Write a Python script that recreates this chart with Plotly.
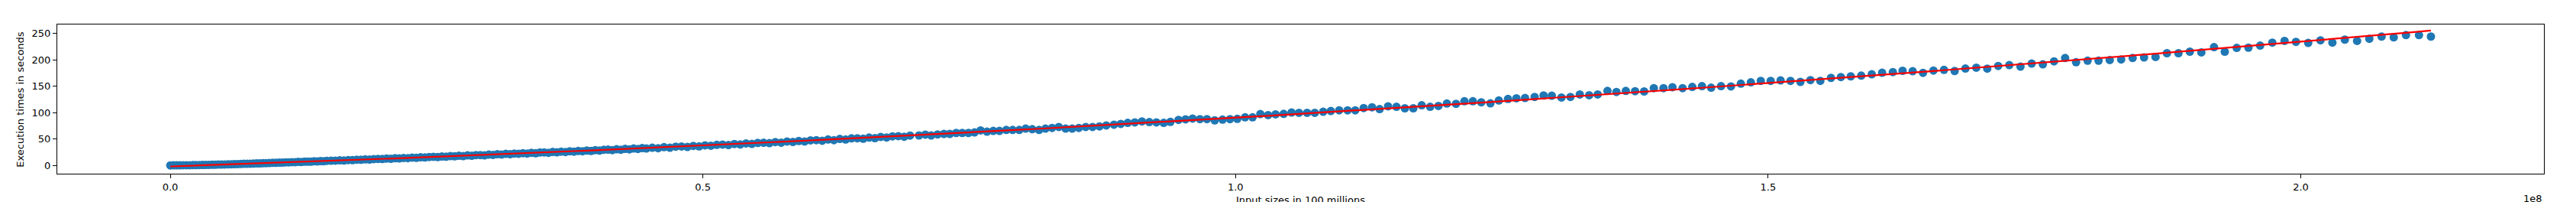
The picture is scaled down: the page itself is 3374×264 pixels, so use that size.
import numpy as np
import plotly.graph_objects as go

# Input sizes in units of 1e8
input_size_1e8 = [
    # dense start
    0.000, 0.003, 0.006, 0.009, 0.012, 0.015, 0.018, 0.021, 0.024, 0.027,
    0.030, 0.033, 0.036, 0.039, 0.042, 0.045, 0.048, 0.051, 0.054, 0.057,
    0.060, 0.063, 0.066, 0.069, 0.072, 0.075, 0.078, 0.081, 0.084, 0.087,
    0.090, 0.093, 0.096, 0.099, 0.102, 0.105, 0.108, 0.111, 0.114, 0.117,
    0.120, 0.123, 0.126, 0.129, 0.132, 0.135, 0.138, 0.141, 0.144, 0.147,
    0.151, 0.155, 0.159, 0.163, 0.167, 0.171, 0.175, 0.179, 0.183, 0.187,
    0.191, 0.195, 0.199, 0.203, 0.207, 0.211, 0.215, 0.219, 0.223, 0.227,
    0.231, 0.235, 0.239, 0.243, 0.247, 0.251, 0.255, 0.259, 0.263, 0.267,
    0.271, 0.275, 0.279, 0.283, 0.287, 0.291, 0.295, 0.299, 0.303, 0.307,
    0.311, 0.315, 0.319, 0.323, 0.327, 0.331, 0.335, 0.339, 0.343, 0.347,
    0.351, 0.355, 0.359, 0.363, 0.367, 0.371, 0.375, 0.379, 0.383, 0.387,
    0.391, 0.395, 0.399, 0.403, 0.407, 0.411, 0.415, 0.419, 0.423, 0.427,
    0.431, 0.435, 0.439, 0.443, 0.447,
    0.4525, 0.4580, 0.4635, 0.4690, 0.4745, 0.4800, 0.4855, 0.4910, 0.4965, 0.5020,
    0.5075, 0.5130, 0.5185, 0.5240, 0.5295, 0.5350, 0.5405, 0.5460, 0.5515, 0.5570,
    0.5625, 0.5680, 0.5735, 0.5790, 0.5845, 0.5900, 0.5955, 0.6010, 0.6065, 0.6120,
    0.6175, 0.6230, 0.6285, 0.6340, 0.6395, 0.6450, 0.6505, 0.6560, 0.6615, 0.6670,
    0.6725, 0.6780, 0.6835, 0.6890, 0.6945,
    # sparser part
    0.7029, 0.7088, 0.7143, 0.7203, 0.7263, 0.7318, 0.7378, 0.7435, 0.7493, 0.7550,
    0.7607, 0.7667, 0.7726, 0.7784, 0.7848, 0.7908, 0.7970, 0.8030, 0.8092, 0.8156,
    0.8216, 0.8278, 0.8341, 0.8405, 0.8467, 0.8529, 0.8594, 0.8658, 0.8723, 0.8787,
    0.8859, 0.8923, 0.8988, 0.9055, 0.9122,
    0.9191, 0.9257, 0.9326, 0.9389, 0.9465, 0.9531, 0.9597, 0.9666, 0.9732, 0.9805,
    0.9878, 0.9948, 1.0017, 1.0090, 1.0160, 1.0233, 1.0306, 1.0376, 1.0452, 1.0526,
    1.0596, 1.0672, 1.0744, 1.0823, 1.0895, 1.0973, 1.1052, 1.1124, 1.1203, 1.1282,
    1.1353, 1.1432, 1.1511, 1.1590, 1.1669, 1.1748, 1.1827, 1.1905, 1.1984, 1.2070,
    1.2149, 1.2228, 1.2307, 1.2393, 1.2472, 1.2558, 1.2637, 1.2718,
    1.2808, 1.2892, 1.2969, 1.3060, 1.3144, 1.3232, 1.3320, 1.3400, 1.3492, 1.3576,
    1.3664, 1.3751, 1.3836, 1.3927, 1.4018, 1.4102,
    1.4197, 1.4288, 1.4379, 1.4465, 1.4558, 1.4651, 1.4744, 1.4838, 1.4931, 1.5024,
    1.5117, 1.5210, 1.5303, 1.5397, 1.5490, 1.5590, 1.5683, 1.5776, 1.5874, 1.5973,
    1.6070, 1.6171, 1.6262,
    1.6357, 1.6454, 1.6552, 1.6651, 1.6751, 1.6852, 1.6954, 1.7057, 1.7160, 1.7264,
    1.7369, 1.7474, 1.7579, 1.7684,
    1.7788, 1.7891, 1.7999, 1.8102, 1.8207, 1.8314, 1.8422, 1.8529, 1.8637, 1.8744,
    1.8852, 1.8959, 1.9067,
    1.9186, 1.9287, 1.9399, 1.9509, 1.9619, 1.9733, 1.9848, 1.9955, 2.0070, 2.0185,
    2.0297, 2.0414, 2.0529, 2.0644, 2.0759, 2.0873, 2.0988, 2.1110, 2.1222,
]

# Execution times in seconds
execution_seconds = [
    0.0, 0.1, 0.2, 0.2, 0.3, 0.4, 0.4, 0.5, 0.6, 0.7,
    0.8, 0.9, 1.0, 1.2, 1.3, 1.5, 1.6, 1.8, 2.0, 2.2,
    2.4, 2.5, 2.7, 3.0, 3.1, 3.3, 3.5, 3.7, 3.8, 4.2,
    4.3, 4.5, 4.9, 4.9, 5.3, 5.2, 5.7, 5.8, 6.2, 6.1,
    6.6, 6.5, 7.0, 7.1, 7.0, 7.8, 7.6, 8.2, 7.9, 8.6,
    8.8, 9.0, 9.5, 9.3, 10.1, 10.0, 10.8, 10.6, 11.4, 11.0,
    11.9, 12.3, 12.0, 12.9, 12.5, 13.6, 13.2, 14.1, 13.7, 14.8,
    14.3, 15.4, 15.0, 15.9, 16.3, 15.7, 16.9, 16.4, 17.6, 17.1,
    18.2, 17.6, 18.9, 18.3, 19.5, 19.6, 19.0, 20.4, 19.9, 21.1,
    20.6, 21.8, 21.2, 22.4, 22.0, 23.1, 22.4, 23.8, 23.0, 24.4,
    24.6, 23.9, 25.4, 24.8, 26.1, 25.3, 26.8, 26.0, 27.4, 26.8,
    28.1, 27.3, 28.9, 28.0, 29.6, 29.8, 28.9, 30.6, 29.7, 31.3,
    30.4, 32.0, 31.1, 32.7, 32.0,
    33.4, 32.6, 34.5, 33.5, 35.4, 35.8, 35.0, 36.9, 36.0, 38.0,
    37.2, 38.9, 39.4, 38.5, 40.5, 39.6, 41.6, 40.7, 42.6, 42.9,
    42.1, 44.2, 43.1, 45.3, 44.3, 46.2, 45.2, 47.4, 47.8, 46.7,
    49.0, 47.8, 50.1, 49.0, 51.2, 51.4, 50.4, 52.7, 51.6, 53.9,
    52.8, 55.0, 55.3, 54.2, 56.4,
    56.7, 58.2, 56.7, 58.6, 59.6, 59.6, 61.4, 61.4, 61.4, 62.4,
    66.2, 63.9, 65.3, 65.3, 67.1, 67.1, 67.1, 69.6, 68.6, 67.1,
    69.6, 71.0, 72.8, 69.6, 69.6, 71.0, 72.8, 72.8, 73.8, 75.7,
    77.1, 78.5, 80.5, 81.4, 83.3,
    81.9, 81.4, 80.5, 82.4, 86.2, 87.2, 88.6, 87.6, 87.6, 85.3,
    86.7, 87.6, 88.1, 91.0, 91.0, 97.2, 95.2, 96.7, 97.6, 100.0,
    99.5, 99.5, 99.5, 101.5, 102.9, 104.3, 104.3, 104.3, 108.6, 110.0,
    106.6, 111.9, 110.9, 108.1, 108.1, 113.8, 110.9, 112.5, 117.1, 116.6,
    121.4, 121.4, 119.5, 117.5, 122.8, 125.7, 127.1, 127.5,
    129.6, 132.4, 131.9, 128.5, 129.6, 134.3, 132.8, 134.3, 141.0, 139.0,
    141.0, 140.5, 140.0, 146.2, 146.2, 148.1,
    146.2, 148.6, 150.0, 147.2, 150.0, 149.5, 154.7, 157.2, 160.0, 160.0,
    160.9, 160.0, 158.1, 161.4, 160.0, 165.7, 167.2, 168.6, 170.0, 172.4,
    175.3, 176.7, 179.1,
    178.2, 175.2, 179.6, 180.8, 178.7, 183.4, 185.0, 183.1, 188.3, 189.8,
    186.9, 192.7, 191.3, 197.0,
    203.3, 195.3, 198.1, 198.1, 199.5, 200.5, 203.3, 204.3, 205.2, 212.4,
    212.4, 215.3, 213.9,
    223.8, 215.2, 222.4, 222.9, 226.7, 232.4, 235.7, 233.9, 231.9, 236.7,
    232.4, 238.1, 235.7, 239.6, 243.9, 242.4, 246.7, 246.7, 243.9,
]

# Quadratic trend line coefficients (x in 1e8 units)
trend_coefficients = [25.8, 66.4, -1.94]

x_tick_vals = [0.0, 0.5, 1.0, 1.5, 2.0]
x_tick_text = ["0.0", "0.5", "1.0", "1.5", "2.0"]
y_tick_vals = [0, 50, 100, 150, 200, 250]

x = np.array(input_size_1e8)
y = np.array(execution_seconds)
fit = np.polyval(trend_coefficients, x)

FONT = "DejaVu Sans"

fig = go.Figure()
fig.add_trace(go.Scatter(
    x=x, y=y, mode="markers",
    marker=dict(color="#1f77b4", size=11, line=dict(width=0)),
    showlegend=False, hoverinfo="skip",
))
fig.add_trace(go.Scatter(
    x=x, y=fit, mode="lines",
    line=dict(color="red", width=2.2),
    showlegend=False, hoverinfo="skip",
))

axis_common = dict(
    showgrid=False, zeroline=False, showline=True, mirror=True,
    linecolor="black", linewidth=1.2, ticks="outside", ticklen=5,
    tickwidth=1, tickcolor="black",
    tickfont=dict(family=FONT, size=13, color="black"),
)

fig.update_layout(
    width=3374, height=264,
    margin=dict(l=75, r=42, t=32, b=34, pad=0),
    paper_bgcolor="white", plot_bgcolor="white",
    font=dict(family=FONT, size=13, color="black"),
    xaxis=dict(range=[-0.1061, 2.2283], tickvals=x_tick_vals, ticktext=x_tick_text, **axis_common),
    yaxis=dict(range=[-15.7, 266.7], tickvals=y_tick_vals, **axis_common),
    annotations=[
        dict(text="Execution times in seconds", textangle=-90, xref="paper", yref="paper",
             x=-0.01498, y=0.5, xanchor="center", yanchor="middle", showarrow=False,
             font=dict(family=FONT, size=13, color="black")),
        dict(text="Input sizes in 100 millions", xref="paper", yref="paper",
             x=0.5, y=-0.1768, xanchor="center", yanchor="middle", showarrow=False,
             font=dict(family=FONT, size=13, color="black")),
        dict(text="1e8", xref="paper", yref="paper",
             x=1.0, y=-0.1667, xanchor="right", yanchor="middle", showarrow=False,
             font=dict(family=FONT, size=13, color="black")),
    ],
)

fig.write_html("out.html")
